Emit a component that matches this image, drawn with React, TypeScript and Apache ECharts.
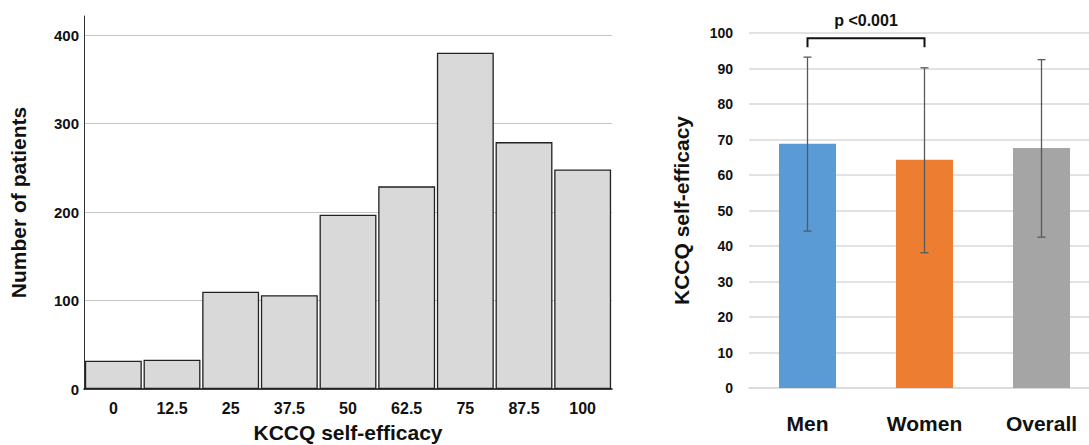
import React, { useEffect, useRef } from "react";
import * as echarts from "echarts";

// Left histogram data
const histCategories = ["0", "12.5", "25", "37.5", "50", "62.5", "75", "87.5", "100"];
const histCounts = [32, 33, 110, 106, 197, 229, 380, 279, 248];

// Right bar chart data
const groups = ["Men", "Women", "Overall"];
const means = [68.8, 64.3, 67.6];
const errLow = [44.2, 38.1, 42.5];
const errHigh = [93.2, 90.2, 92.5];
const groupColors = ["#5B9BD5", "#ED7D31", "#A5A5A5"];

// Significance bracket
const sigPair = [0, 1];
const bracketBase = 96;
const bracketTop = 98.5;
const pLabelValue = 103.4;
const pLabel = "p <0.001";

const FONT = 'Arial, "Liberation Sans", sans-serif';

export default function App() {
  const ref = useRef<HTMLDivElement>(null);
  useEffect(() => {
    if (!ref.current) return;
    const chart = echarts.init(ref.current, undefined, { renderer: "svg" });
    const option: any = {
      animation: false,
      backgroundColor: "#ffffff",
      textStyle: { fontFamily: FONT },
      grid: [
        { left: 84, right: 477, top: 16, bottom: 56, outerBoundsMode: "none", containLabel: false },
        { left: 749, right: -11, top: 33, bottom: 57, outerBoundsMode: "none", containLabel: false },
      ],
      xAxis: [
        {
          type: "category",
          gridIndex: 0,
          data: histCategories,
          axisLine: { lineStyle: { color: "#111", width: 1.5 } },
          axisTick: { show: false },
          axisLabel: { color: "#111", fontWeight: "bold", fontSize: 16, margin: 11, fontFamily: FONT },
          name: "KCCQ self-efficacy",
          nameLocation: "middle",
          nameGap: 33,
          nameTextStyle: { color: "#111", fontWeight: "bold", fontSize: 21, fontFamily: FONT },
        },
        {
          type: "category",
          gridIndex: 1,
          data: groups,
          axisLine: { lineStyle: { color: "#d9d9d9", width: 1.5 } },
          axisTick: { show: false },
          axisLabel: { color: "#111", fontWeight: "bold", fontSize: 21, margin: 25, fontFamily: FONT },
        },
      ],
      yAxis: [
        {
          type: "value",
          gridIndex: 0,
          min: 0,
          max: 421.5,
          interval: 100,
          axisLine: { show: true, lineStyle: { color: "#333", width: 1 } },
          axisTick: { show: false },
          axisLabel: {
            color: "#111",
            fontWeight: "bold",
            fontSize: 15,
            margin: 5,
            fontFamily: FONT,
            formatter: (v: number) => (v % 100 === 0 ? String(v) : ""),
          },
          splitLine: {
            lineStyle: {
              color: ["#c4c4c4", "#c4c4c4", "#c4c4c4", "#c4c4c4", "#c4c4c4", "rgba(0,0,0,0)"],
              width: 1,
            },
          },
          name: "Number of patients",
          nameLocation: "middle",
          nameGap: 55,
          nameTextStyle: { color: "#111", fontWeight: "bold", fontSize: 21, fontFamily: FONT },
        },
        {
          type: "value",
          gridIndex: 1,
          min: 0,
          max: 100,
          interval: 10,
          axisLine: { show: false },
          axisTick: { show: false },
          axisLabel: { color: "#111", fontWeight: "bold", fontSize: 14, margin: 16, fontFamily: FONT },
          splitLine: { lineStyle: { color: "#d9d9d9", width: 1.5 } },
          name: "KCCQ self-efficacy",
          nameLocation: "middle",
          nameGap: 57,
          nameTextStyle: { color: "#111", fontWeight: "bold", fontSize: 21, fontFamily: FONT },
        },
      ],
      series: [
        {
          type: "bar",
          xAxisIndex: 0,
          yAxisIndex: 0,
          data: histCounts,
          barCategoryGap: "3%",
          itemStyle: { color: "#d9d9d9", borderColor: "#222", borderWidth: 1.3 },
        },
        {
          type: "bar",
          xAxisIndex: 1,
          yAxisIndex: 1,
          data: means.map((m, i) => ({ value: m, itemStyle: { color: groupColors[i] } })),
          barWidth: 57,
        },
        {
          type: "custom",
          xAxisIndex: 1,
          yAxisIndex: 1,
          data: groups.map((g, i) => [i, errLow[i], errHigh[i]]),
          z: 10,
          renderItem: (params: any, api: any) => {
            const x = api.value(0);
            const lo = api.coord([x, api.value(1)]);
            const hi = api.coord([x, api.value(2)]);
            const w = 4;
            const style = { stroke: "#595959", lineWidth: 1.3 };
            return {
              type: "group",
              children: [
                { type: "line", shape: { x1: lo[0], y1: lo[1], x2: hi[0], y2: hi[1] }, style },
                { type: "line", shape: { x1: lo[0] - w, y1: lo[1], x2: lo[0] + w, y2: lo[1] }, style },
                { type: "line", shape: { x1: hi[0] - w, y1: hi[1], x2: hi[0] + w, y2: hi[1] }, style },
              ],
            };
          },
        },
        {
          type: "custom",
          xAxisIndex: 1,
          yAxisIndex: 1,
          clip: false,
          data: [[sigPair[0], sigPair[1], bracketBase, bracketTop, pLabelValue]],
          z: 10,
          renderItem: (params: any, api: any) => {
            const a = api.value(0);
            const b = api.value(1);
            const pa0 = api.coord([a, api.value(2)]);
            const pa1 = api.coord([a, api.value(3)]);
            const pb1 = api.coord([b, api.value(3)]);
            const pb0 = api.coord([b, api.value(2)]);
            const t = api.coord([a, api.value(4)]);
            const tb = api.coord([b, api.value(4)]);
            return {
              type: "group",
              children: [
                {
                  type: "polyline",
                  shape: { points: [pa0, pa1, pb1, pb0] },
                  style: { stroke: "#111", lineWidth: 2, fill: "none" },
                },
                {
                  type: "text",
                  x: (t[0] + tb[0]) / 2,
                  y: t[1],
                  style: {
                    text: pLabel,
                    fill: "#111",
                    font: `bold 16px ${FONT}`,
                    align: "center",
                    verticalAlign: "middle",
                  },
                },
              ],
            };
          },
        },
      ],
    };
    chart.setOption(option);
    return () => chart.dispose();
  }, []);
  return (
    <div
      ref={ref}
      style={{ position: "fixed", left: 0, top: 0, width: 1089, height: 445 }}
    />
  );
}
